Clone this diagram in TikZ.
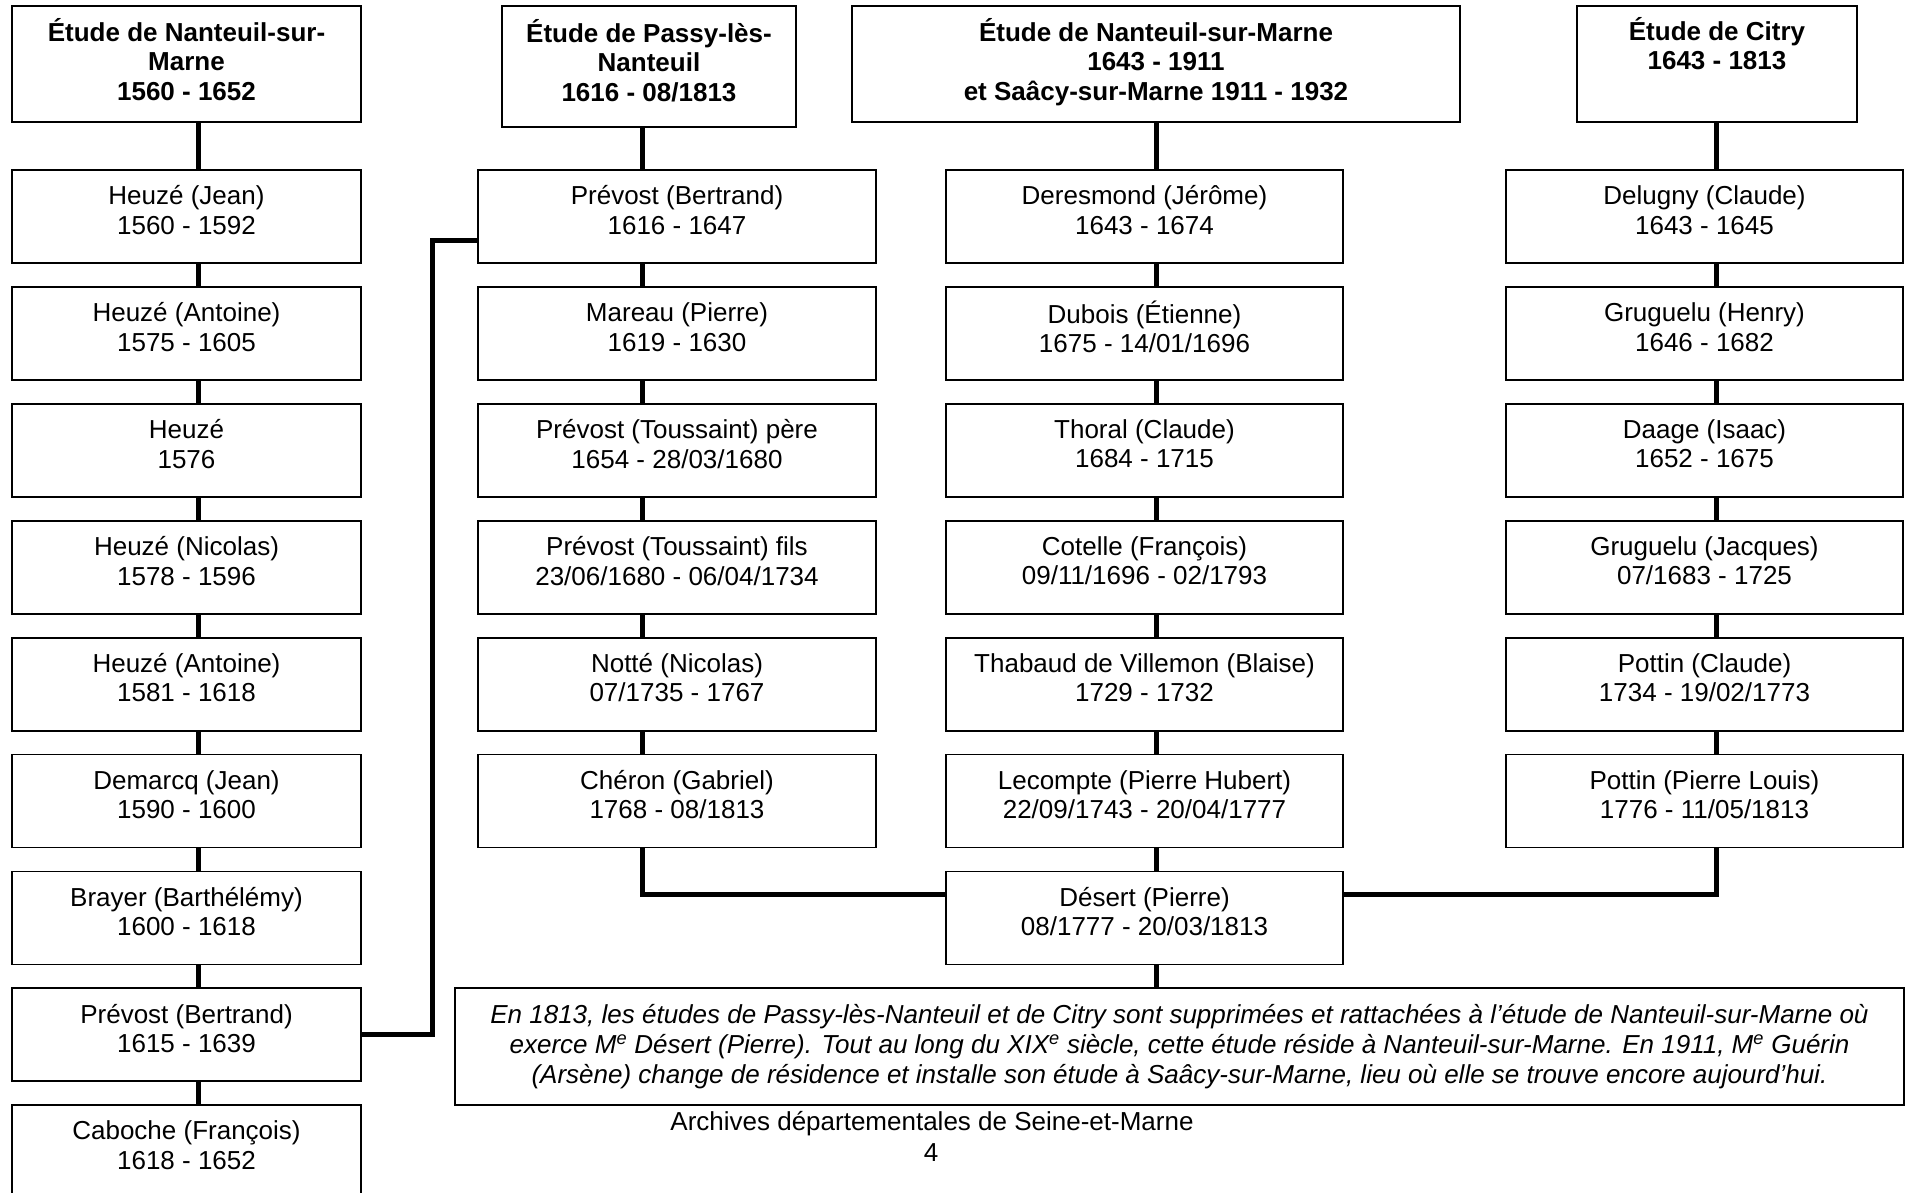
\documentclass[tikz,border=0pt]{standalone}
\usepackage{fontspec}
\setmainfont{Liberation Sans}
\newcommand\boxfont{\fontsize{26}{29.5}\selectfont}
\newcommand\lift{\rule[-13pt]{0pt}{13pt}}
\newcommand\hlift{\rule[-10pt]{0pt}{10pt}}
\tikzset{
  box/.style={draw, line width=1.8pt, minimum height=93pt, inner sep=0pt, align=center, font=\boxfont},
  head/.style={draw, line width=1.8pt, inner sep=0pt, align=center, font=\boxfont\bfseries},
  conn/.style={line width=5pt},
  colA/.style={box, minimum width=349pt},
  colB/.style={box, minimum width=398pt},
  colC/.style={box, minimum width=397pt},
}
\begin{document}
\begin{tikzpicture}[x=1pt,y=-1pt]
\useasboundingbox (0,0) rectangle (1914,1192);
\clip (0,0) rectangle (1914,1192);
% connector x positions
\coordinate (lxa) at (198,0);
\coordinate (lxb) at (642,0);
\coordinate (lxc) at (1156,0);
\coordinate (lxd) at (1716,0);
\coordinate (hy) at (0,894);
\coordinate (bend) at (432,240);
% headers
\node[head, minimum width=349pt, minimum height=116pt] (hA) at (186.5,64) {Étude de Nanteuil-sur-\\Marne\\1560 - 1652\hlift};
\node[head, minimum width=294pt, minimum height=121pt] (hB) at (649,66.5) {Étude de Passy-lès-\\Nanteuil\\1616 - 08/1813\lift};
\node[head, minimum width=608pt, minimum height=116pt] (hC) at (1156,64) {Étude de Nanteuil-sur-Marne\\1643 - 1911\\et Saâcy-sur-Marne 1911 - 1932\hlift};
\node[head, minimum width=280pt, minimum height=116pt] (hD) at (1717,64) {Étude de Citry\\1643 - 1813\\\rule[-12pt]{0pt}{12pt}};
% column A
\foreach \t [count=\i] in {{Heuzé (Jean)\\1560 - 1592},{Heuzé (Antoine)\\1575 - 1605},{Heuzé\\1576},{Heuzé (Nicolas)\\1578 - 1596},{Heuzé (Antoine)\\1581 - 1618},{Demarcq (Jean)\\1590 - 1600},{Brayer (Barthélémy)\\1600 - 1618},{Prévost (Bertrand)\\1615 - 1639},{Caboche (François)\\1618 - 1652}}
  \node[colA] (l\i) at (186.5,{216.5+116.9*(\i-1)}) {\t\lift};
% column B
\foreach \t [count=\i] in {{Prévost (Bertrand)\\1616 - 1647},{Mareau (Pierre)\\1619 - 1630},{Prévost (Toussaint) père\\1654 - 28/03/1680},{Prévost (Toussaint) fils\\23/06/1680 - 06/04/1734},{Notté (Nicolas)\\07/1735 - 1767},{Chéron (Gabriel)\\1768 - 08/1813}}
  \node[colB] (p\i) at (677,{216.5+116.9*(\i-1)}) {\t\lift};
% column C
\foreach \t [count=\i] in {{Deresmond (Jérôme)\\1643 - 1674},{Dubois (Étienne)\\1675 - 14/01/1696},{Thoral (Claude)\\1684 - 1715},{Cotelle (François)\\09/11/1696 - 02/1793},{Thabaud de Villemon (Blaise)\\1729 - 1732},{Lecompte (Pierre Hubert)\\22/09/1743 - 20/04/1777},{Désert (Pierre)\\08/1777 - 20/03/1813}}
  \node[colC] (n\i) at (1144.5,{216.5+116.9*(\i-1)}) {\t\lift};
% column D
\foreach \t [count=\i] in {{Delugny (Claude)\\1643 - 1645},{Gruguelu (Henry)\\1646 - 1682},{Daage (Isaac)\\1652 - 1675},{Gruguelu (Jacques)\\07/1683 - 1725},{Pottin (Claude)\\1734 - 19/02/1773},{Pottin (Pierre Louis)\\1776 - 11/05/1813}}
  \node[colC] (c\i) at (1704.5,{216.5+116.9*(\i-1)}) {\t\lift};
% note
\node[draw, line width=1.8pt, minimum width=1449pt, minimum height=117pt, inner sep=0pt, align=center, font=\fontsize{26}{30}\selectfont\itshape] (note) at (1179.5,1046.5)
 {En 1813, les études de Passy-lès-Nanteuil et de Citry sont supprimées et rattachées à l’étude de Nanteuil-sur-Marne où\\
  exerce M\textsuperscript{e} Désert (Pierre). Tout au long du XIX\textsuperscript{e} siècle, cette étude réside à Nanteuil-sur-Marne. En 1911, M\textsuperscript{e} Guérin\\
  (Arsène) change de résidence et installe son étude à Saâcy-sur-Marne, lieu où elle se trouve encore aujourd’hui.};
% footer
\node[font=\boxfont, inner sep=0pt] (foot) at (932,1124) {Archives départementales de Seine-et-Marne};
\node[font=\boxfont, inner sep=0pt] (page) at (931,1153) {4};
% connectors
\draw[conn] (hA.south -| lxa) -- (l1.north -| lxa);
\foreach \i in {1,...,8}{\pgfmathtruncatemacro\nx{\i+1}\draw[conn] (l\i.south -| lxa) -- (l\nx.north -| lxa);}
\draw[conn] (hB.south -| lxb) -- (p1.north -| lxb);
\foreach \i in {1,...,5}{\pgfmathtruncatemacro\nx{\i+1}\draw[conn] (p\i.south -| lxb) -- (p\nx.north -| lxb);}
\draw[conn] (hC.south -| lxc) -- (n1.north -| lxc);
\foreach \i in {1,...,6}{\pgfmathtruncatemacro\nx{\i+1}\draw[conn] (n\i.south -| lxc) -- (n\nx.north -| lxc);}
\draw[conn] (hD.south -| lxd) -- (c1.north -| lxd);
\foreach \i in {1,...,5}{\pgfmathtruncatemacro\nx{\i+1}\draw[conn] (c\i.south -| lxd) -- (c\nx.north -| lxd);}
\draw[conn] (l8.east) -| (bend) -- (p1.west |- bend);
\draw[conn] (p6.south -| lxb) -- (lxb |- hy) -- (n7.west |- hy);
\draw[conn] (c6.south -| lxd) -- (lxd |- hy) -- (n7.east |- hy);
\draw[conn] (n7.south -| lxc) -- (note.north -| lxc);
\end{tikzpicture}
\end{document}
